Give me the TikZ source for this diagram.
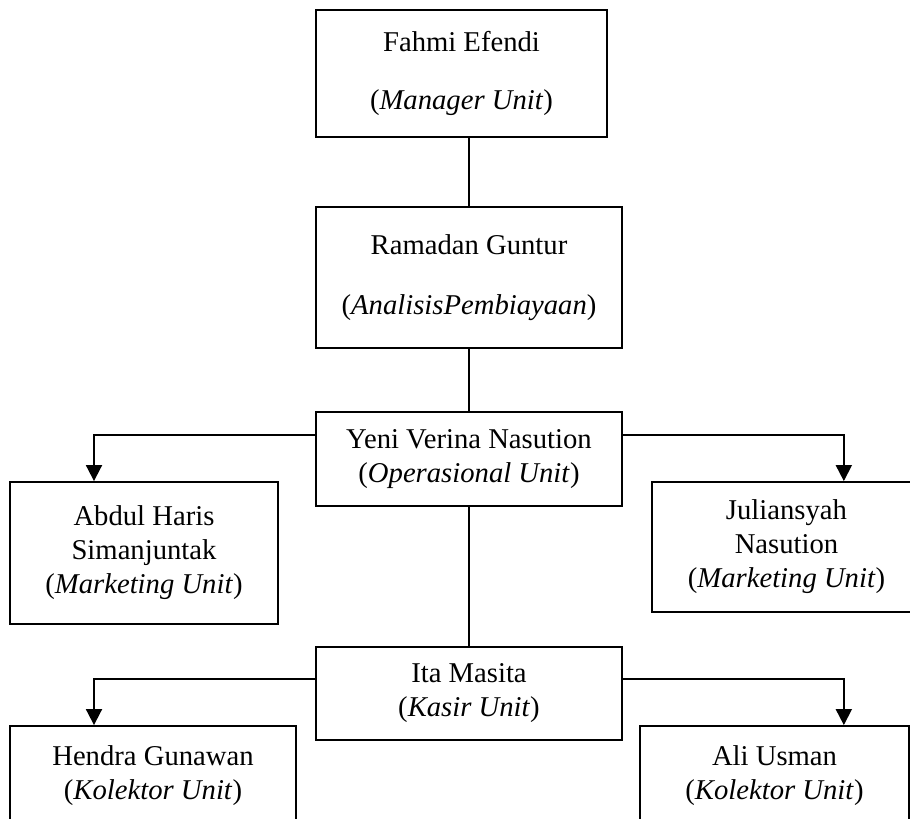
\documentclass[tikz,border=0pt]{standalone}
\usepackage{fontspec}
\setmainfont{Liberation Serif}
\usetikzlibrary{arrows.meta}
\usetikzlibrary{positioning}

\begin{document}
\begin{tikzpicture}[x=0.75pt,y=-0.75pt,
        orgbox/.style={draw, line width=1.4pt, align=center, inner sep=0pt,
            font=\fontsize{21.5pt}{25.5pt}\selectfont},
        branch/.style={line width=1.4pt},
        drop/.style={line width=1.4pt, -{Triangle[width=12pt,length=12pt]}}]
        \useasboundingbox (0,0) rectangle (910,818);
        \clip (0,0) rectangle (910,818);
        \node[orgbox, minimum width=291*0.75pt, minimum height=127*0.75pt] (fahmi) at (461.5,73.5) {Fahmi Efendi\\[18pt](\textit{Manager Unit})};
        \node[orgbox, minimum width=306*0.75pt, minimum height=141*0.75pt] (ramadan) at (469,277.5) {Ramadan Guntur\\[19.5pt](\textit{AnalisisPembiayaan})};
        \node[orgbox, minimum width=306*0.75pt, minimum height=94*0.75pt] (yeni) at (469,459) {Yeni Verina Nasution\\(\textit{Operasional Unit})};
        \node[orgbox, minimum width=268*0.75pt, minimum height=142*0.75pt] (abdul) at (144,553) {Abdul Haris\\Simanjuntak\\(\textit{Marketing Unit})};
        \node[orgbox, minimum width=269*0.75pt, minimum height=130*0.75pt] (julian) at (786.5,547) {Juliansyah\\Nasution\\(\textit{Marketing Unit})};
        \node[orgbox, minimum width=306*0.75pt, minimum height=93*0.75pt] (ita) at (469,693.5) {Ita Masita\\(\textit{Kasir Unit})};
        \node[orgbox, minimum width=286*0.75pt, minimum height=100*0.75pt] (hendra) at (153,776) {Hendra Gunawan\\(\textit{Kolektor Unit})};
        \node[orgbox, minimum width=269*0.75pt, minimum height=100*0.75pt] (ali) at (774.5,776) {Ali Usman\\(\textit{Kolektor Unit})};
        % garis lurus
        \draw[branch] (fahmi.south -| ramadan.north) -- (ramadan.north);
        \draw[branch] (ramadan.south) -- (yeni.north);
        \draw[branch] (yeni.south) -- (ita.north);
        % panah ke bawahan
        \draw[drop] ([yshift=-18pt]yeni.north west) -| ([xshift=-37.5pt]abdul.north);
        \draw[drop] ([yshift=-18pt]yeni.north east) -| ([xshift=43pt]julian.north);
        \draw[drop] ([yshift=-24.75pt]ita.north west) -| ([xshift=-44.25pt]hendra.north);
        \draw[drop] ([yshift=-24.75pt]ita.north east) -| ([xshift=52pt]ali.north);
    \end{tikzpicture}
\end{document}
